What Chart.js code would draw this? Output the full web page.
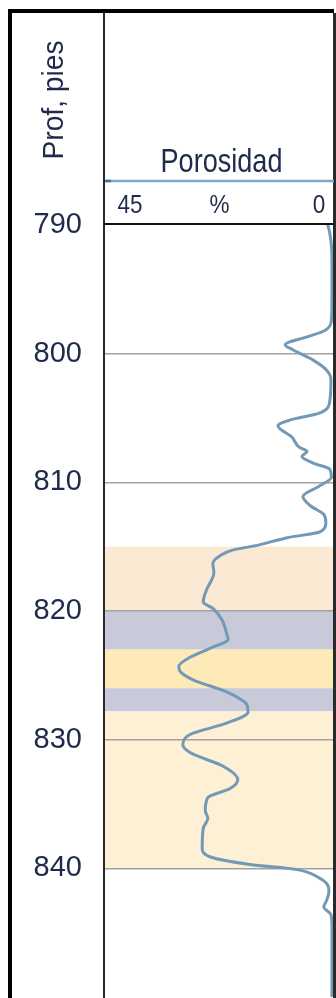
<!DOCTYPE html>
<html>
<head>
<meta charset="utf-8">
<script src="https://cdn.jsdelivr.net/npm/chart.js@4.4.1/dist/chart.umd.min.js"></script>
<style>
  html, body { margin: 0; padding: 0; background: #ffffff; }
  canvas { display: block; }
</style>
</head>
<body>
<canvas id="log" width="336" height="998"></canvas>
<script>
// Porosity log, depth in feet (top to bottom) and porosity in percent.
const depthFt = [
  789.5, 790.0, 791.2, 792.7, 795.8, 797.4, 798.2, 798.7, 799.3, 799.7,
  800.5, 801.3, 802.0, 803.6, 804.6, 805.15, 805.6, 806.5, 807.25, 807.6,
  808.0, 808.5, 809.0, 809.6, 810.3, 811.1, 811.8, 812.5, 813.1, 813.85,
  814.3, 814.9, 815.25, 815.7, 816.3, 817.0, 818.4, 819.3, 819.8, 820.7,
  821.9, 822.2, 822.9, 823.6, 824.3, 824.65, 825.35, 826.3, 827.3, 827.85,
  828.7, 829.6, 830.4, 831.0, 832.1, 833.1, 833.8, 834.5, 835.5, 836.1,
  836.9, 838.4, 839.1, 839.7, 840.1, 840.7, 841.2, 841.8, 842.45, 843.0,
  843.6, 844.55, 850.0
];
const porosityPct = [
  1.6, 1.2, 0.6, 0.4, 0.4, 0.5, 1.8, 5.3, 9.6, 8.1,
  4.1, 1.4, 0.6, 0.8, 2.75, 8.6, 11.0, 8.25, 6.9, 5.3,
  6.3, 4.1, 0.8, 0.5, 2.95, 6.1, 4.7, 2.0, 1.6, 2.75,
  9.2, 15.1, 19.8, 22.4, 23.8, 23.6, 25.1, 25.7, 23.8, 22.0,
  21.0, 20.8, 24.4, 28.3, 30.5, 30.3, 27.7, 21.0, 17.1, 16.9,
  21.0, 28.3, 29.7, 28.3, 21.6, 18.9, 20.4, 24.8, 25.3, 24.8,
  25.7, 25.9, 24.4, 16.5, 7.3, 3.1, 1.4, 1.0, 1.4, 2.0,
  0.6, 0.4, 0.4
];

// Lithology intervals shaded behind the curve (feet).
const bandTopFt    = [815, 820, 823, 826, 827.8];
const bandBottomFt = [820, 823, 826, 827.8, 840];
const bandFill     = ['#fce9d3', '#c9cad9', '#feeab9', '#c9cad9', '#fef0d4'];

// Depth axis and porosity track scale.
const depthMin = 790, depthMax = 850, depthStep = 10;
const porosityLeft = 45, porosityRight = 0;
const trackTicks  = [45, 22.5, 0];
const trackLabels = ['45', '%', '0'];
const trackTitle  = 'Porosidad';
const depthTitle  = 'Prof, pies';

const textColor = '#1f2a4c';
const sans = '"Liberation Sans", Arial, sans-serif';

const points = depthFt.map((d, i) => ({ x: porosityPct[i], y: d }));

// condensed text helper
function narrowText(ctx, text, x, y, squeeze) {
  ctx.save();
  ctx.translate(x, y);
  ctx.scale(squeeze, 1);
  ctx.fillText(text, 0, 0);
  ctx.restore();
}

const logPlugin = {
  id: 'logTrack',
  beforeDraw(chart) {
    const { ctx, chartArea: a, scales: { y } } = chart;
    ctx.save();
    ctx.fillStyle = '#ffffff';
    ctx.fillRect(0, 0, chart.width, chart.height);
    bandTopFt.forEach((top, i) => {
      const y0 = y.getPixelForValue(top);
      const y1 = y.getPixelForValue(bandBottomFt[i]);
      ctx.fillStyle = bandFill[i];
      ctx.fillRect(a.left, y0, a.right - a.left, y1 - y0);
    });
    ctx.restore();
  },
  afterDraw(chart) {
    const { ctx, chartArea: a, scales: { x } } = chart;
    ctx.save();
    // outer frame
    ctx.fillStyle = '#000000';
    ctx.fillRect(8, 9, a.right - 8, 4);
    ctx.fillRect(8, 9, 4, chart.height - 9);
    // track borders
    ctx.fillStyle = '#2a2a2a';
    ctx.fillRect(a.left - 2, 13, 2, chart.height - 13);
    ctx.fillRect(a.right - 1, 13, 3, chart.height - 13);
    ctx.fillStyle = '#111111';
    ctx.fillRect(a.left - 1, a.top - 2, a.right - a.left + 1, 2);

    // track header
    ctx.fillStyle = textColor;
    ctx.textBaseline = 'alphabetic';
    ctx.textAlign = 'center';
    ctx.font = '33px ' + sans;
    narrowText(ctx, trackTitle, (a.left + a.right) / 2 + 2, 172, 0.82);

    ctx.strokeStyle = '#7fa7c8';
    ctx.lineWidth = 2.5;
    ctx.beginPath();
    ctx.moveTo(a.left, 181);
    ctx.lineTo(a.right, 181);
    ctx.stroke();
    ctx.strokeStyle = '#3f72a6';
    ctx.beginPath();
    ctx.moveTo(a.left, 181);
    ctx.lineTo(a.left + 6, 181);
    ctx.stroke();

    ctx.font = '25px ' + sans;
    trackTicks.forEach((v, i) => {
      const px = x.getPixelForValue(v);
      let cx = px;
      if (i === 0) cx = px + 25;
      if (i === trackTicks.length - 1) cx = px - 15;
      narrowText(ctx, trackLabels[i], cx, 213, 0.9);
    });

    // depth title, rotated
    ctx.translate(55, 100);
    ctx.rotate(-Math.PI / 2);
    ctx.font = '30px ' + sans;
    ctx.textBaseline = 'middle';
    narrowText(ctx, depthTitle, 0, 0, 0.94);
    ctx.restore();
  }
};

new Chart(document.getElementById('log'), {
  type: 'line',
  data: {
    datasets: [{
      data: points,
      borderColor: '#7299b6',
      borderWidth: 3,
      pointRadius: 0,
      fill: false,
      cubicInterpolationMode: 'monotone'
    }]
  },
  options: {
    indexAxis: 'y',
    responsive: false,
    animation: false,
    devicePixelRatio: 1,
    layout: { padding: { top: 225, left: 12, right: 2, bottom: 1 } },
    plugins: { legend: { display: false }, tooltip: { enabled: false } },
    scales: {
      x: {
        type: 'linear',
        display: false,
        min: porosityRight,
        max: porosityLeft,
        reverse: true
      },
      y: {
        type: 'linear',
        min: depthMin,
        max: depthMax,
        reverse: true,
        afterFit(scale) {
          scale.width = 93;
          scale.paddingTop = 0;
          scale.paddingBottom = 0;
        },
        border: { display: false },
        grid: {
          drawTicks: false,
          lineWidth: 1.5,
          color(c) {
            const v = c.tick && c.tick.value;
            return (v === depthMin || v === depthMax) ? 'rgba(0,0,0,0)' : '#a2a2a2';
          }
        },
        ticks: {
          stepSize: depthStep,
          padding: 23,
          color: textColor,
          font: { family: sans, size: 29 },
          callback(v) { return v === depthMax ? null : String(v); }
        }
      }
    }
  },
  plugins: [logPlugin]
});
</script>
</body>
</html>
